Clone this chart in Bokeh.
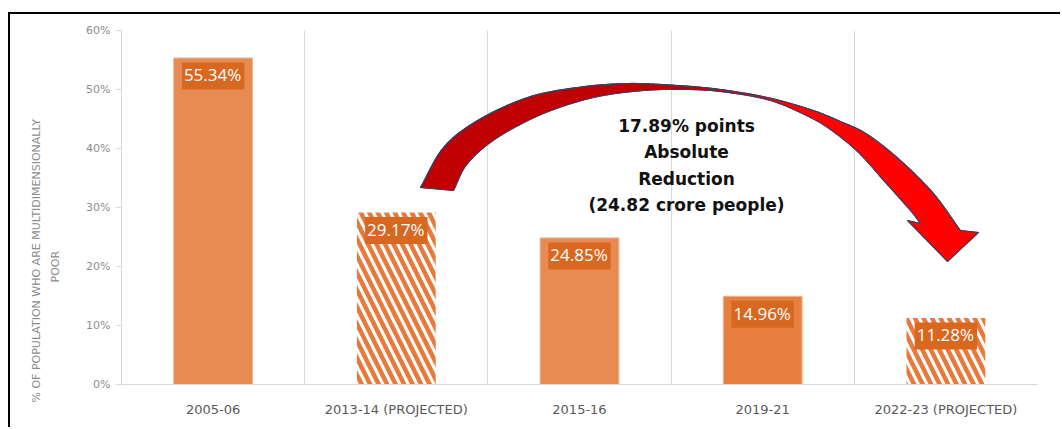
import numpy as np
from bokeh.plotting import figure
from bokeh.models import FixedTicker, PrintfTickFormatter, Title, ColumnDataSource
from bokeh.core.properties import value
from bokeh.embed import file_html
from bokeh.resources import INLINE

# ---------------- data ----------------
categories = ["2005-06", "2013-14 (PROJECTED)", "2015-16", "2019-21", "2022-23 (PROJECTED)"]
poverty_pct = [55.34, 29.17, 24.85, 14.96, 11.28]
projected = [False, True, False, False, True]
y_ticks = [0, 10, 20, 30, 40, 50, 60]
y_axis_title = ["% OF POPULATION WHO ARE MULTIDIMENSIONALLY", "POOR"]
annotation_lines = ["17.89% points", "Absolute", "Reduction", "(24.82 crore people)"]

# ---------------- layout (page pixels) ----------------
PAGE_W, PAGE_H = 1062, 429
OX, OY = 10, 14                 # figure origin inside page (black border)
W, H = PAGE_W - OX, PAGE_H - OY
FRAME_L, FRAME_R, FRAME_T, FRAME_B = 121, 1037, 30, 384   # page coords of plot frame
X0, X1 = -0.5, len(categories) - 0.5
Y0, Y1 = 0, 60
FW, FH = FRAME_R - FRAME_L, FRAME_B - FRAME_T


def px_to_data(px, py):
    px = np.asarray(px, float)
    py = np.asarray(py, float)
    return X0 + (px - FRAME_L) / FW * (X1 - X0), Y1 - (py - FRAME_T) / FH * (Y1 - Y0)


p = figure(width=W, height=H, x_range=(X0, X1), y_range=(Y0, Y1),
           output_backend="svg", toolbar_location=None,
           min_border_left=FRAME_L - OX, min_border_right=PAGE_W - FRAME_R,
           min_border_top=FRAME_T - OY, min_border_bottom=PAGE_H - FRAME_B)
p.margin = (OY - 2, 0, 0, OX - 2)
p.styles = {"border-top": "2px solid black", "border-left": "2px solid black"}
p.background_fill_color = "white"
p.border_fill_color = "white"
p.outline_line_color = None

# grid: vertical separators between categories
p.ygrid.grid_line_color = None
p.xgrid.ticker = FixedTicker(ticks=[i + 0.5 for i in range(len(categories))])
p.xgrid.grid_line_color = "#D9D9D9"
p.xgrid.grid_line_width = 1

# axes
p.xaxis.ticker = FixedTicker(ticks=list(range(len(categories))))
p.xaxis.major_label_overrides = {i: c for i, c in enumerate(categories)}
p.xaxis.major_tick_line_color = None
p.xaxis.minor_tick_line_color = None
p.xaxis.axis_line_color = "#D9D9D9"
p.xaxis.major_label_standoff = 11
p.xaxis.major_label_text_font = "DejaVu Sans"
p.xaxis.major_label_text_font_size = "13px"
p.xaxis.major_label_text_color = "#595959"

p.yaxis.ticker = FixedTicker(ticks=y_ticks)
p.yaxis.formatter = PrintfTickFormatter(format="%d%%")
p.yaxis.axis_line_color = "#D9D9D9"
p.yaxis.major_tick_line_color = "#D9D9D9"
p.yaxis.major_tick_in = 0
p.yaxis.major_tick_out = 6
p.yaxis.minor_tick_line_color = None
p.yaxis.major_label_standoff = 5
p.yaxis.major_label_text_font = "DejaVu Sans"
p.yaxis.major_label_text_font_size = "11px"
p.yaxis.major_label_text_color = "#8C8C8C"

# y-axis title: spacer, then the two lines (inner one first), placed below centre
p.add_layout(Title(text=" ", standoff=6, text_font_size="11px", text_color="white"), "left")
for txt, off in zip(y_axis_title[::-1], [102, -18]):
    p.add_layout(Title(text=txt, align="left", offset=off, standoff=4,
                       text_font="DejaVu Sans", text_font_size="11px",
                       text_font_style="normal", text_color="#8C8C8C"), "left")

# ---------------- bars ----------------
xs = list(range(len(categories)))
solid_idx = [i for i in xs if not projected[i]]
hatch_idx = [i for i in xs if projected[i]]
solid_colors = {0: "#E88B52", 2: "#E88B52", 3: "#E67F3F"}

solid = ColumnDataSource(dict(x=solid_idx, top=[poverty_pct[i] for i in solid_idx],
                              color=[solid_colors[i] for i in solid_idx]))
hatched = ColumnDataSource(dict(x=hatch_idx, top=[poverty_pct[i] for i in hatch_idx]))

p.vbar(x="x", top="top", width=0.43, source=solid, fill_color="color",
       line_color="#F3B68E", line_width=1)
p.vbar(x="x", top="top", width=0.43, source=hatched, fill_color="white", line_color=None,
       hatch_pattern="\\", hatch_color="#E8793A", hatch_scale=17, hatch_weight=4.5)

labels = ColumnDataSource(dict(x=xs, y=poverty_pct, text=[f"{v:.2f}%" for v in poverty_pct]))
p.text(x="x", y="y", text="text", source=labels, text_align="center", text_baseline="middle",
       y_offset=18, text_color="white", text_font=value("Open Sans"), text_font_size="17px",
       background_fill_color="#D86720", padding=(2, 3, 1, 3))

# ---------------- curved arrow (decoration, paired cross-sections in page pixels) ----------------
outer_px = [(420, 187), (443, 147), (477, 120), (527, 97), (577, 87), (627, 83), (677, 85),
            (720, 89), (767, 97), (810, 109), (840, 121), (867, 134), (900, 160), (933, 193),
            (960, 230)]
inner_px = [(453, 190), (467, 163), (497, 137), (543, 113), (593, 97), (643, 90), (690, 89),
            (728, 92), (770, 100), (806, 115), (830, 129), (858, 152), (885, 182), (910, 210),
            (920, 223)]
head_px = [(978, 232), (947, 261), (907, 220)]


def catmull(points, n=10):
    pts = np.array(points, float)
    ext = np.vstack([2 * pts[0] - pts[1], pts, 2 * pts[-1] - pts[-2]])
    out = []
    for i in range(len(pts) - 1):
        p0, p1, p2, p3 = ext[i], ext[i + 1], ext[i + 2], ext[i + 3]
        for t in np.linspace(0, 1, n, endpoint=False):
            out.append(0.5 * ((2 * p1) + (-p0 + p2) * t + (2 * p0 - 5 * p1 + 4 * p2 - p3) * t ** 2
                              + (-p0 + 3 * p1 - 3 * p2 + p3) * t ** 3))
    out.append(pts[-1])
    return np.array(out)


o = catmull(outer_px)
q = catmull(inner_px)
N = len(o)


def red_at(xpx):
    f = float(np.clip((xpx - 690) / 80.0, 0, 1))
    return "#%02X0000" % int(round(192 + f * 63))


seg_xs, seg_ys, seg_cols = [], [], []
for i in range(N - 1):
    px = [o[i, 0], o[i + 1, 0], q[i + 1, 0], q[i, 0]]
    py = [o[i, 1], o[i + 1, 1], q[i + 1, 1], q[i, 1]]
    dx, dy = px_to_data(px, py)
    seg_xs.append(list(dx))
    seg_ys.append(list(dy))
    seg_cols.append(red_at((o[i, 0] + q[i, 0]) / 2))
p.patches(seg_xs, seg_ys, fill_color=seg_cols, line_color=seg_cols, line_width=1)

head = np.vstack([o[-1], np.array(head_px, float), q[-1]])
hx, hy = px_to_data(head[:, 0], head[:, 1])
p.patch(list(hx), list(hy), fill_color="#FF0000", line_color="#FF0000", line_width=1)

full = np.vstack([o, np.array(head_px, float), q[::-1]])
fx, fy = px_to_data(full[:, 0], full[:, 1])
p.patch(list(fx), list(fy), fill_color=None, line_color="#33406A", line_width=1.2)

# annotation text
ax_c, _ = px_to_data(686, 0)
ly = [px_to_data(0, 125 + 26.5 * k)[1] for k in range(len(annotation_lines))]
p.text(x=[float(ax_c)] * len(annotation_lines), y=[float(v) for v in ly], text=annotation_lines,
       text_align="center", text_baseline="middle", text_color="#111111",
       text_font=value("DejaVu Sans"), text_font_size="17px", text_font_style="bold")

open("out.html", "w").write(file_html(p, INLINE))
